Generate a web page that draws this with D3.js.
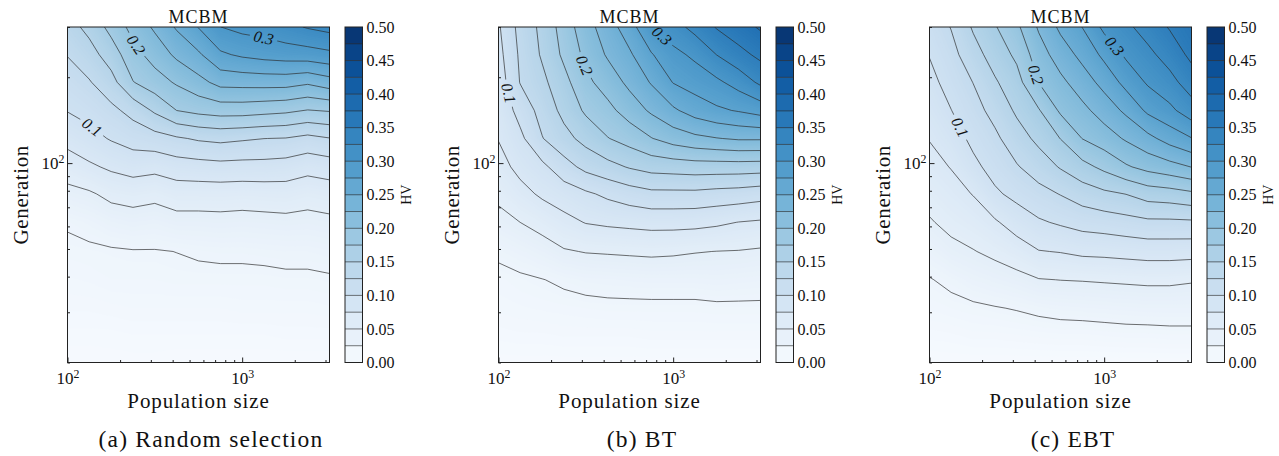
<!DOCTYPE html>
<html>
<head>
<meta charset="utf-8">
<script src="https://cdn.jsdelivr.net/npm/d3@7"></script>
<style>
  body { margin: 0; background: #fff; }
  svg text { font-family: "Liberation Serif", "Times New Roman", serif; fill: #111; }
  .tick text { font-size: 17px; }
  .cbar .tick text { font-size: 16px; }
</style>
</head>
<body>
<svg id="fig" width="1279" height="456"></svg>
<script>
// grid axes (population size columns, generation rows)
const popSizes = [100, 133, 178, 237, 316, 422, 562, 750, 1000, 1334, 1778, 2371, 3162];
const generations = [20, 25, 31, 39, 49, 62, 78, 97, 122, 153, 192, 240, 300];

// HV values, one row per generation (lowest first), one column per population size
const hvRandom = [
  [.005, .005, .006, .006, .006, .005, .005, .005, .005, .005, .005, .005, .005],
  [.009, .009, .009, .010, .010, .010, .010, .010, .010, .010, .011, .011, .011],
  [.013, .013, .014, .015, .015, .015, .015, .015, .016, .016, .016, .016, .017],
  [.017, .018, .020, .020, .020, .021, .021, .021, .021, .021, .022, .022, .023],
  [.021, .022, .023, .024, .024, .0252, .027, .028, .028, .029, .030, .030, .032],
  [.027, .031, .037, .040, .038, .042, .042, .043, .042, .043, .044, .043, .045],
  [.043, .047, .056, .059, .056, .062, .062, .062, .061, .062, .063, .059, .062],
  [.062, .071, .079, .085, .082, .088, .090, .092, .091, .091, .089, .083, .087],
  [.083, .092, .102, .110, .115, .122, .128, .131, .128, .1252, .124, .118, .124],
  [.101, .108, .119, .133, .154, .1752, .182, .186, .186, .183, .180, .174, .177],
  [.113, .123, .141, .174, .189, .203, .217, .233, .234, .235, .235, .229, .239],
  [.126, .140, .162, .191, .210, .230, .246, .271, .279, .284, .287, .289, .294],
  [.140, .157, .183, .208, .229, .253, .276, .2998, .307, .310, .318, .327, .333]
];
const hvBT = [
  [.006, .006, .006, .006, .006, .006, .006, .006, .006, .006, .006, .006, .006],
  [.011, .012, .012, .013, .013, .013, .013, .014, .014, .014, .014, .014, .014],
  [.016, .017, .018, .019, .020, .021, .021, .021, .021, .021, .022, .022, .022],
  [.019, .022, .0245, .028, .031, .032, .033, .034, .034, .034, .035, .034, .033],
  [.029, .034, .040, .048, .051, .052, .053, .054, .053, .051, .0497, .049, .047],
  [.043, .050, .058, .068, .076, .079, .081, .083, .083, .082, .079, .0745, .072],
  [.055, .067, .079, .087, .096, .105, .113, .119, .119, .119, .116, .114, .110],
  [.066, .082, .094, .115, .132, .142, .152, .159, .161, .163, .163, .163, .162],
  [.076, .094, .124, .142, .158, .174, .185, .199, .211, .219, .224, .228, .228],
  [.081, .109, .134, .157, .179, .193, .211, .229, .246, .261, .271, .277, .285],
  [.086, .126, .144, .167, .194, .211, .231, .252, .276, .286, .295, .310, .330],
  [.092, .129, .153, .180, .206, .228, .246, .273, .293, .305, .3255, .342, .356],
  [.097, .133, .156, .186, .215, .238, .264, .299, .315, .333, .352, .365, .378]
];
const hvEBT = [
  [.005, .005, .005, .005, .005, .005, .005, .005, .005, .005, .005, .005, .005],
  [.011, .012, .014, .014, .015, .016, .017, .017, .018, .019, .019, .020, .020],
  [.018, .020, .022, .024, .026, .029, .031, .032, .033, .034, .035, .035, .035],
  [.024, .029, .035, .039, .043, .049, .0503, .051, .052, .053, .054, .054, .052],
  [.035, .044, .049, .055, .063, .074, .076, .080, .081, .083, .085, .085, .084],
  [.048, .056, .062, .072, .086, .097, .103, .109, .112, .116, .120, .120, .121],
  [.058, .066, .076, .096, .107, .117, .126, .137, .145, .1505, .161, .164, .170],
  [.067, .076, .094, .109, .123, .137, .152, .167, .181, .197, .208, .216, .2255],
  [.076, .088, .106, .120, .139, .156, .1755, .2005, .213, .228, .243, .260, .274],
  [.085, .0996, .116, .133, .154, .173, .204, .2185, .236, .255, .280, .294, .314],
  [.093, .109, .1255, .147, .166, .2005, .219, .238, .258, .283, .303, .317, .337],
  [.101, .117, .140, .161, .180, .2135, .237, .257, .281, .304, .319, .335, .356],
  [.109, .126, .153, .173, .195, .228, .255, .2755, .306, .320, .335, .352, .365]
];

const panelTitles = ["MCBM", "MCBM", "MCBM"];
const captions = ["(a) Random selection", "(b) BT", "(c) EBT"];
const hvGrids = [hvRandom, hvBT, hvEBT];

// inline labels: level and a (population, generation) spot near where it sits
const labelLevels = [0.1, 0.2, 0.3];
const labelSpots = [
  [[136, 132], [250, 261], [1312, 264]],
  [[115, 176], [304, 219], [859, 279]],
  [[151, 134], [406, 204], [1164, 259]]
];

const xMajor = [100, 1000];
const xMinor = [200, 300, 400, 500, 600, 700, 800, 900, 2000, 3000];
const yMajor = [100];
const yMinor = [20, 30, 40, 50, 60, 70, 80, 90, 200, 300];
const cbTicks = [0, 0.05, 0.10, 0.15, 0.20, 0.25, 0.30, 0.35, 0.40, 0.45, 0.50];

const W = 262, H = 335.5;
const left0 = 67.5, top0 = 27, panelGap = 431;
const vmax = 0.5;
const lineLevels = d3.range(1, 20).map(i => +(i * 0.025).toFixed(3));
const fillLevels = d3.range(0, 200).map(i => i * 0.0025);
const color = v => d3.interpolateBlues(Math.max(0, Math.min(1, v / vmax)));

// closest spot on a polyline, plus arc-length helpers for the label angle
function nearestOn(pts, tx, ty) {
  const cum = [0];
  for (let i = 1; i < pts.length; i++) {
    cum.push(cum[i - 1] + Math.hypot(pts[i][0] - pts[i - 1][0], pts[i][1] - pts[i - 1][1]));
  }
  let best = null;
  for (let i = 0; i < pts.length - 1; i++) {
    const [ax, ay] = pts[i], [bx, by] = pts[i + 1];
    const dx = bx - ax, dy = by - ay, l2 = dx * dx + dy * dy || 1e-9;
    const t = Math.max(0, Math.min(1, ((tx - ax) * dx + (ty - ay) * dy) / l2));
    const px = ax + t * dx, py = ay + t * dy;
    const d = (px - tx) ** 2 + (py - ty) ** 2;
    if (!best || d < best.d) best = { d, s: cum[i] + t * (cum[i + 1] - cum[i]), q: [px, py] };
  }
  return { ...best, cum };
}
function pointAt(pts, cum, s) {
  s = Math.max(0, Math.min(cum[cum.length - 1], s));
  let i = 0;
  while (i < cum.length - 2 && cum[i + 1] < s) i++;
  const t = (s - cum[i]) / ((cum[i + 1] - cum[i]) || 1e-9);
  return [pts[i][0] + t * (pts[i + 1][0] - pts[i][0]), pts[i][1] + t * (pts[i + 1][1] - pts[i][1])];
}

const svg = d3.select("#fig");

hvGrids.forEach((grid, p) => {
  const g = svg.append("g").attr("transform", `translate(${left0 + p * panelGap},${top0})`);

  const x = d3.scaleLog().domain([100, 3162]).range([0, W]);
  const y = d3.scaleLog().domain([20, 300]).range([H, 0]);
  const nx = popSizes.length, ny = generations.length;
  const xPos = popSizes.map(x), yPos = generations.map(y);
  const flat = grid.flat();

  // contour coords put grid node k at k+0.5, map back onto the scales
  const toPx = (c, n, pos) => {
    const t = Math.max(0, Math.min(n - 1, c - 0.5));
    const i = Math.min(n - 2, Math.floor(t));
    return pos[i] + (pos[i + 1] - pos[i]) * (t - i);
  };
  const project = pt => [toPx(pt[0], nx, xPos), toPx(pt[1], ny, yPos)];

  const clipId = "clip" + p;
  g.append("clipPath").attr("id", clipId)
    .append("rect").attr("width", W).attr("height", H);

  // filled field
  const fillG = g.append("g").attr("clip-path", `url(#${clipId})`);
  d3.contours().size([nx, ny]).thresholds(fillLevels)(flat).forEach(c => {
    const d = c.coordinates.map(poly => poly.map(ring =>
      "M" + ring.map(project).map(q => q[0].toFixed(2) + "," + q[1].toFixed(2)).join("L") + "Z").join("")).join("");
    if (!d) return;
    fillG.append("path").attr("d", d)
      .attr("fill", color(c.value + 0.00125))
      .attr("fill-rule", "evenodd");
  });

  // contour lines, without the parts running along the frame
  const side = q => {
    const s = [];
    if (q[0] < 0.01) s.push("l");
    if (q[0] > W - 0.01) s.push("r");
    if (q[1] < 0.01) s.push("t");
    if (q[1] > H - 0.01) s.push("b");
    return s;
  };
  const segs = [];
  d3.contours().size([nx, ny]).thresholds(lineLevels)(flat).forEach(c => {
    c.coordinates.forEach(poly => poly.forEach(ring => {
      const pts = ring.map(project);
      let cur = [];
      for (let i = 0; i < pts.length - 1; i++) {
        const a = side(pts[i]), b = side(pts[i + 1]);
        const onFrame = a.some(s => b.includes(s));
        if (onFrame) {
          if (cur.length > 1) segs.push({ level: c.value, pts: cur });
          cur = [];
        } else {
          if (!cur.length) cur.push(pts[i]);
          cur.push(pts[i + 1]);
        }
      }
      if (cur.length > 1) segs.push({ level: c.value, pts: cur });
    }));
  });

  // label placement, gaps cut out of the lines with a mask
  const mask = g.append("mask").attr("id", "mask" + p)
    .attr("maskUnits", "userSpaceOnUse")
    .attr("x", -10).attr("y", -10).attr("width", W + 20).attr("height", H + 20);
  mask.append("rect").attr("x", -10).attr("y", -10)
    .attr("width", W + 20).attr("height", H + 20).attr("fill", "white");

  const labels = [];
  labelLevels.forEach((lv, li) => {
    const [tp, tg] = labelSpots[p][li];
    const tx = x(tp), ty = y(tg);
    let best = null;
    segs.filter(s => Math.abs(s.level - lv) < 1e-6).forEach(s => {
      const r = nearestOn(s.pts, tx, ty);
      if (!best || r.d < best.d) best = { ...r, pts: s.pts };
    });
    if (!best) return;
    const a = pointAt(best.pts, best.cum, best.s - 9);
    const b = pointAt(best.pts, best.cum, best.s + 9);
    let ang = Math.atan2(b[1] - a[1], b[0] - a[0]) * 180 / Math.PI;
    if (ang > 90) ang -= 180;
    if (ang < -90) ang += 180;
    const q = best.q;
    labels.push({ q, ang, text: lv.toFixed(1) });
    mask.append("rect").attr("x", -14).attr("y", -7).attr("width", 28).attr("height", 14)
      .attr("fill", "black")
      .attr("transform", `translate(${q[0]},${q[1]}) rotate(${ang})`);
  });

  const line = d3.line();
  g.append("g").attr("clip-path", `url(#${clipId})`)
    .append("g").attr("mask", `url(#mask${p})`)
    .selectAll("path").data(segs).join("path")
    .attr("d", s => line(s.pts))
    .attr("fill", "none")
    .attr("stroke", "#2b2b2b")
    .attr("stroke-opacity", 0.85)
    .attr("stroke-width", 0.8);

  g.append("g").selectAll("text").data(labels).join("text")
    .attr("transform", d => `translate(${d.q[0]},${d.q[1]}) rotate(${d.ang})`)
    .attr("text-anchor", "middle")
    .attr("dy", "0.35em")
    .attr("font-style", "italic")
    .attr("font-size", 16)
    .text(d => d.text);

  // axes, ticks inside
  const sup = sel => sel.selectAll(".tick text").each(function (d) {
    const t = d3.select(this);
    t.append("tspan").text("10");
    t.append("tspan").attr("dy", "-0.5em").attr("font-size", "0.7em")
      .text(Math.round(Math.log10(d)));
  });
  const xa = g.append("g").attr("transform", `translate(0,${H})`).attr("color", "#222")
    .call(d3.axisBottom(x).tickValues(xMajor).tickSize(-5).tickPadding(9).tickFormat(() => ""));
  sup(xa);
  g.append("g").attr("transform", `translate(0,${H})`).attr("color", "#222")
    .call(d3.axisBottom(x).tickValues(xMinor).tickSize(-2.5).tickFormat(() => ""));
  const ya = g.append("g").attr("color", "#222")
    .call(d3.axisLeft(y).tickValues(yMajor).tickSize(-5).tickPadding(3).tickFormat(() => ""));
  sup(ya);
  g.append("g").attr("color", "#222")
    .call(d3.axisLeft(y).tickValues(yMinor).tickSize(-2.5).tickFormat(() => ""));
  g.selectAll(".domain").remove();

  g.append("rect").attr("width", W).attr("height", H)
    .attr("fill", "none").attr("stroke", "#222").attr("stroke-width", 1);

  g.append("text").attr("x", W / 2).attr("y", -4).attr("text-anchor", "middle")
    .attr("font-size", 18).attr("letter-spacing", 1).text(panelTitles[p]);
  g.append("text").attr("x", W / 2).attr("y", 381).attr("text-anchor", "middle")
    .attr("font-size", 21).attr("letter-spacing", 0.9).text("Population size");
  g.append("text").attr("transform", `translate(-39.5,${H / 2}) rotate(-90)`)
    .attr("text-anchor", "middle").attr("font-size", 21).attr("letter-spacing", 0.6)
    .text("Generation");
  g.append("text").attr("x", 143.5).attr("y", 420).attr("text-anchor", "middle")
    .attr("font-size", 23.5).attr("letter-spacing", 1.2).text(captions[p]);

  // colorbar
  const cb = g.append("g").attr("class", "cbar").attr("transform", "translate(277.5,0)");
  const cbW = 17.5;
  const cy = d3.scaleLinear().domain([0, vmax]).range([H, 0]);
  const bands = d3.range(0, 20).map(i => i * 0.025);
  cb.selectAll("rect.band").data(bands).join("rect").attr("class", "band")
    .attr("x", 0).attr("width", cbW)
    .attr("y", d => cy(d + 0.025)).attr("height", d => cy(d) - cy(d + 0.025) + 0.3)
    .attr("fill", d => color(d + 0.0125));
  cb.selectAll("line.lv").data(lineLevels).join("line").attr("class", "lv")
    .attr("x1", 0).attr("x2", cbW).attr("y1", d => cy(d)).attr("y2", d => cy(d))
    .attr("stroke", "#2b2b2b").attr("stroke-opacity", 0.8).attr("stroke-width", 0.8);
  cb.append("rect").attr("width", cbW).attr("height", H)
    .attr("fill", "none").attr("stroke", "#222").attr("stroke-width", 1);
  cb.append("g").attr("transform", `translate(${cbW},0)`)
    .call(d3.axisRight(cy).tickValues(cbTicks).tickSize(0).tickPadding(4).tickFormat(d3.format(".2f")))
    .select(".domain").remove();
  cb.append("text").attr("transform", `translate(66,${H / 2}) rotate(-90)`)
    .attr("text-anchor", "middle").attr("font-size", 14).text("HV");
});
</script>
</body>
</html>
